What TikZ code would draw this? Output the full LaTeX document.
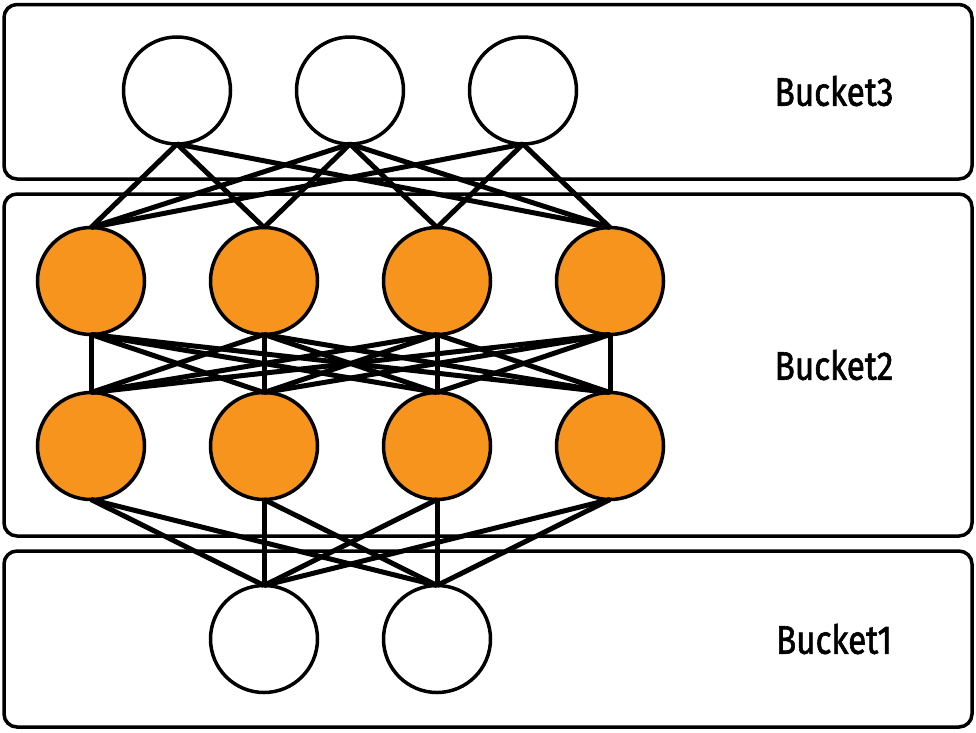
\documentclass[tikz,border=0pt]{standalone}
\usepackage{fontspec}
\newfontfamily\labelfont{Fira Sans}[FakeStretch=0.83, FakeBold=1.5]
\usetikzlibrary{positioning}

\definecolor{nodeorange}{RGB}{247,148,29}

\begin{document}
\begin{tikzpicture}[x=1pt, y=-1pt, line width=3.5pt,
    bucket/.style={draw, rounded corners=13pt, minimum width=968pt, inner sep=0, outer sep=0},
    neuron/.style={circle, draw, fill=white, minimum size=107pt, inner sep=0, outer sep=0},
    hidden/.style={neuron, fill=nodeorange},
    link/.style={line width=5pt},
    bucketlabel/.style={font=\fontsize{40}{48}\labelfont, inner sep=0}]
  \useasboundingbox (0,0) rectangle (976,732);

  % buckets
  \node [bucket, minimum height=174.5pt] (bucket3) at (488,91.75) {};
  \node [bucket, minimum height=342pt] (bucket2) at (488,365) {};
  \node [bucket, minimum height=176pt] (bucket1) at (488,639) {};

  \node [bucketlabel] (label3) at (834,91) {Bucket3};
  \node [bucketlabel] (label2) at (834,365) {Bucket2};
  \node [bucketlabel] (label1) at (834,639) {Bucket1};

  % neurons
  \node [neuron] (top1) at (177,90.5) {};
  \node [neuron, right=66pt of top1] (top2) {};
  \node [neuron, right=66pt of top2] (top3) {};

  \node [hidden] (upper1) at (91,281) {};
  \node [hidden, right=66pt of upper1] (upper2) {};
  \node [hidden, right=66pt of upper2] (upper3) {};
  \node [hidden, right=66pt of upper3] (upper4) {};

  \node [hidden, below=58pt of upper1] (lower1) {};
  \node [hidden, right=66pt of lower1] (lower2) {};
  \node [hidden, right=66pt of lower2] (lower3) {};
  \node [hidden, right=66pt of lower3] (lower4) {};

  \node [neuron] (bottom1) at (264,639) {};
  \node [neuron, right=66pt of bottom1] (bottom2) {};

  % connections
  \foreach \t/\u in {1/1, 1/2, 1/4, 2/1, 2/2, 2/3, 2/4, 3/1, 3/3, 3/4}
    \draw [link] (top\t.south) -- (upper\u.north);
  \foreach \i in {1,...,4}
    \foreach \j in {1,...,4}
      \draw [link] (upper\i.south) -- (lower\j.north);
  \foreach \i in {1,...,4}
    \foreach \j in {1,2}
      \draw [link] (lower\i.south) -- (bottom\j.north);
\end{tikzpicture}
\end{document}
